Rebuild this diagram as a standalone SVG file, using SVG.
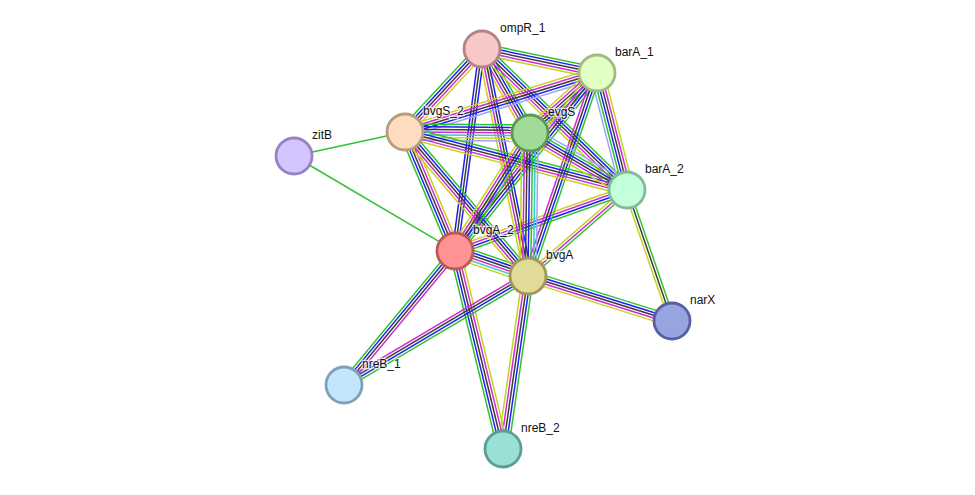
<svg xmlns="http://www.w3.org/2000/svg" width="975" height="495" viewBox="0 0 975 495">
<style>
line{stroke-width:1.5;fill:none}
.g{stroke:#2fc42f}.b{stroke:#2020f0}.k{stroke:#3c3c3c}.m{stroke:#d22ad2}.y{stroke:#c2d41e}.l{stroke:#9fa5ff}.c{stroke:#3cc8c8}
.n circle{stroke-width:2.8}
text{font-family:"Liberation Sans",Arial,sans-serif;font-size:12px;fill:#111;stroke:#fff;stroke-width:2.5;stroke-opacity:0.7;paint-order:stroke}
</style>
<rect width="975" height="495" fill="#fff"/>
<g id="edges">
<g transform="translate(294 156) rotate(-12.2)"><line x2="113.6" class="g"/></g>
<g transform="translate(294 156) rotate(30.54)"><line x2="186.9" class="g"/></g>
<g transform="translate(528 276) rotate(17.35)"><line x2="150.9" y1="-5.4" y2="-5.4" class="g"/><line x2="150.9" y1="-2.7" y2="-2.7" class="b"/><line x2="150.9" class="k"/><line x2="150.9" y1="2.7" y2="2.7" class="m"/><line x2="150.9" y1="5.4" y2="5.4" class="y"/></g>
<g transform="translate(627 190) rotate(71.04)"><line x2="138.5" y1="-2.7" y2="-2.7" class="g"/><line x2="138.5" class="k"/><line x2="138.5" y1="2.7" y2="2.7" class="y"/></g>
<g transform="translate(528 276) rotate(98.22)"><line x2="174.8" y1="-5.4" y2="-5.4" class="g"/><line x2="174.8" y1="-2.7" y2="-2.7" class="b"/><line x2="174.8" class="k"/><line x2="174.8" y1="2.7" y2="2.7" class="m"/><line x2="174.8" y1="5.4" y2="5.4" class="y"/></g>
<g transform="translate(455 251) rotate(76.37)"><line x2="203.7" y1="5.4" y2="5.4" class="g"/><line x2="203.7" y1="2.7" y2="2.7" class="b"/><line x2="203.7" class="k"/><line x2="203.7" y1="-2.7" y2="-2.7" class="m"/><line x2="203.7" y1="-5.4" y2="-5.4" class="y"/></g>
<g transform="translate(455 251) rotate(129.64)"><line x2="174" y1="4" y2="4" class="g"/><line x2="174" y1="1.35" y2="1.35" class="b"/><line x2="174" y1="-1.35" y2="-1.35" class="k"/><line x2="174" y1="-4" y2="-4" class="m"/></g>
<g transform="translate(528 276) rotate(149.36)"><line x2="213.9" y1="-4" y2="-4" class="g"/><line x2="213.9" y1="-1.35" y2="-1.35" class="b"/><line x2="213.9" y1="1.35" y2="1.35" class="k"/><line x2="213.9" y1="4" y2="4" class="m"/></g>
<g transform="translate(455 251) rotate(18.91)"><line x2="77.2" y1="-6.75" y2="-6.75" class="g"/><line x2="77.2" y1="-4" y2="-4" class="b"/><line x2="77.2" y1="-1.35" y2="-1.35" class="k"/><line x2="77.2" y1="1.35" y2="1.35" class="m"/><line x2="77.2" y1="4" y2="4" class="c"/><line x2="77.2" y1="6.75" y2="6.75" class="y"/></g>
<g transform="translate(627 190) rotate(139.02)"><line x2="131.1" y1="-2.7" y2="-2.7" class="g"/><line x2="131.1" class="m"/><line x2="131.1" y1="2.7" y2="2.7" class="y"/></g>
<g transform="translate(627 190) rotate(160.47)"><line x2="182.5" y1="-4" y2="-4" class="g"/><line x2="182.5" y1="-1.35" y2="-1.35" class="b"/><line x2="182.5" y1="1.35" y2="1.35" class="m"/><line x2="182.5" y1="4" y2="4" class="y"/></g>
<g transform="translate(482 49) rotate(11.79)"><line x2="117.5" y1="-5.4" y2="-5.4" class="g"/><line x2="117.5" y1="-2.7" y2="-2.7" class="b"/><line x2="117.5" class="k"/><line x2="117.5" y1="2.7" y2="2.7" class="m"/><line x2="117.5" y1="5.4" y2="5.4" class="y"/></g>
<g transform="translate(482 49) rotate(132.85)"><line x2="113.2" y1="5.4" y2="5.4" class="g"/><line x2="113.2" y1="2.7" y2="2.7" class="b"/><line x2="113.2" class="k"/><line x2="113.2" y1="-2.7" y2="-2.7" class="m"/><line x2="113.2" y1="-5.4" y2="-5.4" class="y"/></g>
<g transform="translate(482 49) rotate(60.26)"><line x2="96.7" y1="-5.4" y2="-5.4" class="g"/><line x2="96.7" y1="-2.7" y2="-2.7" class="b"/><line x2="96.7" class="k"/><line x2="96.7" y1="2.7" y2="2.7" class="m"/><line x2="96.7" y1="5.4" y2="5.4" class="y"/></g>
<g transform="translate(482 49) rotate(44.2)"><line x2="202.3" y1="-5.4" y2="-5.4" class="g"/><line x2="202.3" y1="-2.7" y2="-2.7" class="b"/><line x2="202.3" class="k"/><line x2="202.3" y1="2.7" y2="2.7" class="m"/><line x2="202.3" y1="5.4" y2="5.4" class="y"/></g>
<g transform="translate(482 49) rotate(97.61)"><line x2="203.8" y1="-2.7" y2="-2.7" class="b"/><line x2="203.8" class="k"/><line x2="203.8" y1="2.7" y2="2.7" class="b"/></g>
<g transform="translate(482 49) rotate(78.54)"><line x2="231.6" y1="-4" y2="-4" class="b"/><line x2="231.6" y1="-1.35" y2="-1.35" class="k"/><line x2="231.6" y1="1.35" y2="1.35" class="m"/><line x2="231.6" y1="4" y2="4" class="y"/></g>
<g transform="translate(597 73) rotate(162.92)"><line x2="200.9" y1="-5.4" y2="-5.4" class="l"/><line x2="200.9" y1="-2.7" y2="-2.7" class="b"/><line x2="200.9" class="k"/><line x2="200.9" y1="2.7" y2="2.7" class="m"/><line x2="200.9" y1="5.4" y2="5.4" class="y"/></g>
<g transform="translate(597 73) rotate(138.16)"><line x2="89.9" y1="-6.75" y2="-6.75" class="l"/><line x2="89.9" y1="-4" y2="-4" class="g"/><line x2="89.9" y1="-1.35" y2="-1.35" class="b"/><line x2="89.9" y1="1.35" y2="1.35" class="k"/><line x2="89.9" y1="4" y2="4" class="m"/><line x2="89.9" y1="6.75" y2="6.75" class="y"/></g>
<g transform="translate(597 73) rotate(75.62)"><line x2="120.8" y1="6.75" y2="6.75" class="l"/><line x2="120.8" y1="4" y2="4" class="g"/><line x2="120.8" y1="1.35" y2="1.35" class="b"/><line x2="120.8" y1="-1.35" y2="-1.35" class="k"/><line x2="120.8" y1="-4" y2="-4" class="m"/><line x2="120.8" y1="-6.75" y2="-6.75" class="y"/></g>
<g transform="translate(597 73) rotate(128.58)"><line x2="227.7" y1="-5.4" y2="-5.4" class="g"/><line x2="227.7" y1="-2.7" y2="-2.7" class="b"/><line x2="227.7" class="k"/><line x2="227.7" y1="2.7" y2="2.7" class="m"/><line x2="227.7" y1="5.4" y2="5.4" class="y"/></g>
<g transform="translate(597 73) rotate(108.77)"><line x2="214.4" y1="-4" y2="-4" class="g"/><line x2="214.4" y1="-1.35" y2="-1.35" class="b"/><line x2="214.4" y1="1.35" y2="1.35" class="k"/><line x2="214.4" y1="4" y2="4" class="m"/></g>
<g transform="translate(405 132) rotate(0.46)"><line x2="125" y1="-8.1" y2="-8.1" class="g"/><line x2="125" y1="-5.4" y2="-5.4" class="b"/><line x2="125" y1="-2.7" y2="-2.7" class="k"/><line x2="125" class="m"/><line x2="125" y1="2.7" y2="2.7" class="c"/><line x2="125" y1="5.4" y2="5.4" class="y"/><line x2="125" y1="8.1" y2="8.1" class="l"/></g>
<g transform="translate(405 132) rotate(14.64)"><line x2="229.5" y1="-5.4" y2="-5.4" class="g"/><line x2="229.5" y1="-2.7" y2="-2.7" class="b"/><line x2="229.5" class="k"/><line x2="229.5" y1="2.7" y2="2.7" class="m"/><line x2="229.5" y1="5.4" y2="5.4" class="y"/></g>
<g transform="translate(405 132) rotate(67.21)"><line x2="129.1" y1="5.4" y2="5.4" class="g"/><line x2="129.1" y1="2.7" y2="2.7" class="b"/><line x2="129.1" class="k"/><line x2="129.1" y1="-2.7" y2="-2.7" class="m"/><line x2="129.1" y1="-5.4" y2="-5.4" class="y"/></g>
<g transform="translate(405 132) rotate(49.5)"><line x2="189.4" y1="-5.4" y2="-5.4" class="g"/><line x2="189.4" y1="-2.7" y2="-2.7" class="b"/><line x2="189.4" class="k"/><line x2="189.4" y1="2.7" y2="2.7" class="m"/><line x2="189.4" y1="5.4" y2="5.4" class="y"/></g>
<g transform="translate(530 133) rotate(30.44)"><line x2="112.5" y1="-6.75" y2="-6.75" class="l"/><line x2="112.5" y1="-4" y2="-4" class="g"/><line x2="112.5" y1="-1.35" y2="-1.35" class="b"/><line x2="112.5" y1="1.35" y2="1.35" class="k"/><line x2="112.5" y1="4" y2="4" class="m"/><line x2="112.5" y1="6.75" y2="6.75" class="y"/></g>
<g transform="translate(530 133) rotate(122.44)"><line x2="139.8" y1="-5.4" y2="-5.4" class="g"/><line x2="139.8" y1="-2.7" y2="-2.7" class="b"/><line x2="139.8" class="k"/><line x2="139.8" y1="2.7" y2="2.7" class="m"/><line x2="139.8" y1="5.4" y2="5.4" class="y"/></g>
<g transform="translate(530 133) rotate(90.8)"><line x2="143" y1="-8.1" y2="-8.1" class="l"/><line x2="143" y1="-5.4" y2="-5.4" class="c"/><line x2="143" y1="-2.7" y2="-2.7" class="g"/><line x2="143" class="b"/><line x2="143" y1="2.7" y2="2.7" class="k"/><line x2="143" y1="5.4" y2="5.4" class="m"/><line x2="143" y1="8.1" y2="8.1" class="y"/></g>
</g>
<g id="ompR_1" class="n"><circle cx="482" cy="49" r="18" fill="#f8c8c8" stroke="#b48484"/><text x="500" y="32">ompR_1</text></g>
<g id="barA_1" class="n"><circle cx="597" cy="73" r="18" fill="#e2ffc4" stroke="#a2ba84"/><text x="615" y="56">barA_1</text></g>
<g id="bvgS_2" class="n"><circle cx="405" cy="132" r="18" fill="#ffdcc0" stroke="#b89c80"/><text x="423" y="115">bvgS_2</text></g>
<g id="evgS" class="n"><circle cx="530" cy="133" r="18" fill="#a0dc98" stroke="#5c9a54"/><text x="548" y="116">evgS</text></g>
<g id="zitB" class="n"><circle cx="294" cy="156" r="18" fill="#d4c4ff" stroke="#9484c4"/><text x="312" y="139">zitB</text></g>
<g id="barA_2" class="n"><circle cx="627" cy="190" r="18" fill="#c2ffda" stroke="#84ba9c"/><text x="645" y="173">barA_2</text></g>
<g id="bvgA_2" class="n"><circle cx="455" cy="251" r="18" fill="#ff9292" stroke="#c05858"/><text x="473" y="234">bvgA_2</text></g>
<g id="bvgA" class="n"><circle cx="528" cy="276" r="18" fill="#e0dc98" stroke="#a09858"/><text x="546" y="259">bvgA</text></g>
<g id="narX" class="n"><circle cx="672" cy="321" r="18" fill="#98a4e0" stroke="#58609e"/><text x="690" y="304">narX</text></g>
<g id="nreB_1" class="n"><circle cx="344" cy="385" r="18" fill="#c2e6fc" stroke="#7ea2ba"/><text x="362" y="368">nreB_1</text></g>
<g id="nreB_2" class="n"><circle cx="503" cy="449" r="18" fill="#9ae0d6" stroke="#5a9e94"/><text x="521" y="432">nreB_2</text></g>
</svg>
